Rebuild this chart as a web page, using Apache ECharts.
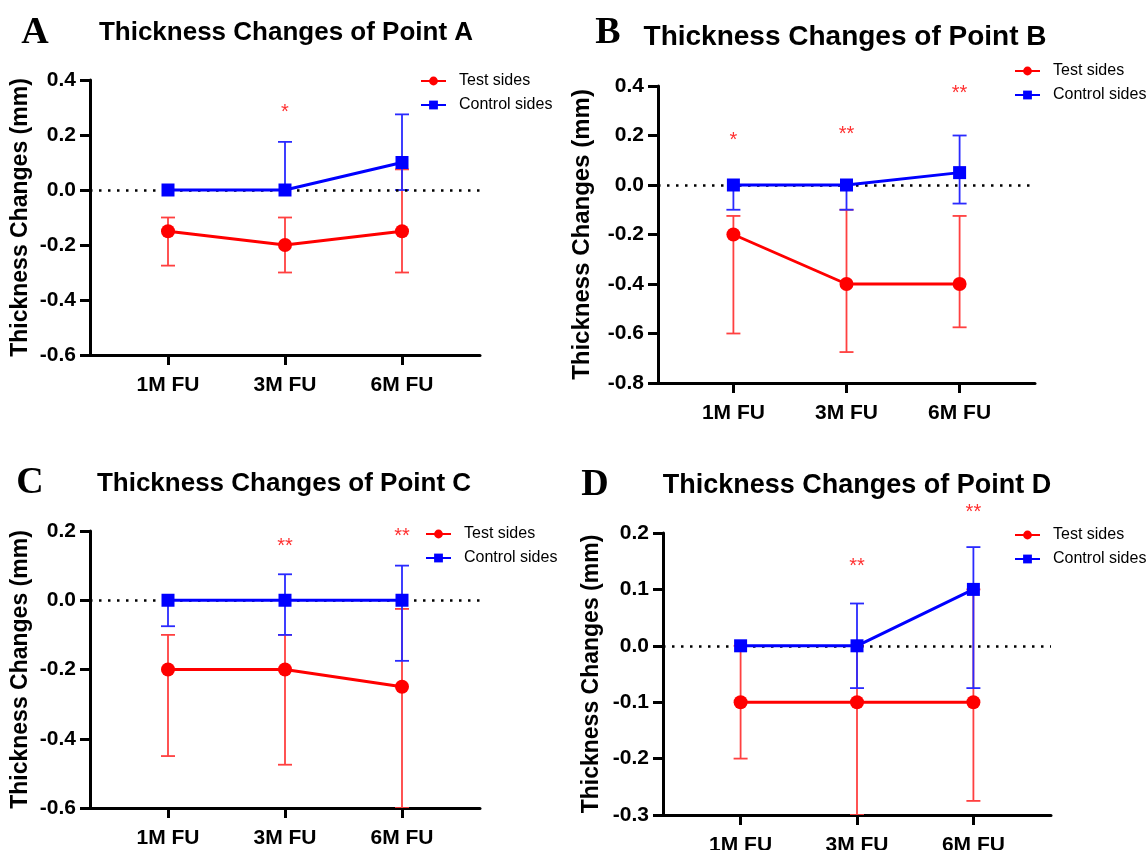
<!DOCTYPE html>
<html>
<head>
<meta charset="utf-8">
<script src="https://cdn.jsdelivr.net/npm/echarts@6/dist/echarts.min.js"></script>
<style>html,body{margin:0;padding:0;background:#fff}#c{width:1147px;height:850px}</style>
</head>
<body>
<div id="c"></div>
<script>
const categories = ['1M FU', '3M FU', '6M FU'];
const seriesNames = ['Test sides', 'Control sides'];
const panelLetters = ['A', 'B', 'C', 'D'];
const panelTitles = ['Thickness Changes of Point A', 'Thickness Changes of Point B', 'Thickness Changes of Point C', 'Thickness Changes of Point D'];
const yName = 'Thickness Changes (mm)';

// Panel A
const testA = [-0.15, -0.2, -0.15];
const testA_hi = [-0.1, -0.1, 0.075];
const testA_lo = [-0.275, -0.3, -0.3];
const ctrlA = [0, 0, 0.1];
const ctrlA_hi = [0, 0.175, 0.275];
const ctrlA_lo = [0, 0, 0];
const starsA = ['', '*', ''];
const starsA_y = [null, 0.3, null];
const yTicksA = { min: -0.6, max: 0.4, interval: 0.2 };

// Panel B
const testB = [-0.2, -0.4, -0.4];
const testB_hi = [-0.125, -0.1, -0.125];
const testB_lo = [-0.6, -0.675, -0.575];
const ctrlB = [0, 0, 0.05];
const ctrlB_hi = [0, 0, 0.2];
const ctrlB_lo = [-0.1, -0.1, -0.075];
const starsB = ['*', '**', '**'];
const starsB_y = [0.2, 0.225, 0.39];
const yTicksB = { min: -0.8, max: 0.4, interval: 0.2 };

// Panel C
const testC = [-0.2, -0.2, -0.25];
const testC_hi = [-0.1, -0.1, -0.025];
const testC_lo = [-0.45, -0.475, -0.6];
const ctrlC = [0, 0, 0];
const ctrlC_hi = [0, 0.075, 0.1];
const ctrlC_lo = [-0.075, -0.1, -0.175];
const starsC = ['', '**', '**'];
const starsC_y = [null, 0.17, 0.2];
const yTicksC = { min: -0.6, max: 0.2, interval: 0.2 };

// Panel D
const testD = [-0.1, -0.1, -0.1];
const testD_hi = [0, 0, 0.1];
const testD_lo = [-0.2, -0.3, -0.275];
const ctrlD = [0, 0, 0.1];
const ctrlD_hi = [0, 0.075, 0.175];
const ctrlD_lo = [0, -0.075, -0.075];
const starsD = ['', '**', '**'];
const starsD_y = [null, 0.15, 0.245];
const yTicksD = { min: -0.3, max: 0.2, interval: 0.1 };

const panels = [
  { test: testA, tHi: testA_hi, tLo: testA_lo, ctrl: ctrlA, cHi: ctrlA_hi, cLo: ctrlA_lo, stars: starsA, starsY: starsA_y, y: yTicksA },
  { test: testB, tHi: testB_hi, tLo: testB_lo, ctrl: ctrlB, cHi: ctrlB_hi, cLo: ctrlB_lo, stars: starsB, starsY: starsB_y, y: yTicksB },
  { test: testC, tHi: testC_hi, tLo: testC_lo, ctrl: ctrlC, cHi: ctrlC_hi, cLo: ctrlC_lo, stars: starsC, starsY: starsC_y, y: yTicksC },
  { test: testD, tHi: testD_hi, tLo: testD_lo, ctrl: ctrlD, cHi: ctrlD_hi, cLo: ctrlD_lo, stars: starsD, starsY: starsD_y, y: yTicksD }
];

// layout (style, not data)
const FONT = '"Liberation Sans", Arial, sans-serif';
const SERIF = '"Liberation Serif", "Times New Roman", serif';
const grids = [
  { left: 90, top: 80, width: 390, height: 275 },
  { left: 658, top: 86, width: 377, height: 297 },
  { left: 90, top: 531, width: 390, height: 277 },
  { left: 663, top: 533, width: 388, height: 282 }
];
const titlePos = [
  { x: 286, y: 33, size: 26 }, { x: 845, y: 37, size: 28 },
  { x: 284, y: 484, size: 26 }, { x: 857, y: 486, size: 27 }
];
const letterPos = [
  { x: 35, y: 33 }, { x: 608, y: 33 }, { x: 30, y: 483 }, { x: 595, y: 485 }
];
const legendPos = [
  { left: 415, top: 68 }, { left: 1009, top: 58 }, { left: 420, top: 521 }, { left: 1009, top: 522 }
];
const yNameGap = [58, 64, 58, 60];
const yNameSize = [23, 24, 23, 23];

const RED = '#ff0000', BLUE = '#0000ff';
const RED_ERR = '#ff4040', BLUE_ERR = '#2a2aff';

// category index -> position on a 0..10 x scale (ticks at 2, 5, 8)
const xPos = categories.map((_, i) => 2 + 3 * i);

function errRender(color) {
  return function (params, api) {
    const x = api.value(0), hi = api.value(1), lo = api.value(2), m = api.value(3);
    const pHi = api.coord([x, hi]), pLo = api.coord([x, lo]);
    const w = 7;
    const st = { stroke: color, lineWidth: 1.8 };
    const ch = [{ type: 'line', shape: { x1: pHi[0], y1: pHi[1], x2: pLo[0], y2: pLo[1] }, style: st }];
    if (hi !== m) ch.push({ type: 'line', shape: { x1: pHi[0] - w, y1: pHi[1], x2: pHi[0] + w, y2: pHi[1] }, style: st });
    if (lo !== m) ch.push({ type: 'line', shape: { x1: pLo[0] - w, y1: pLo[1], x2: pLo[0] + w, y2: pLo[1] }, style: st });
    return { type: 'group', children: ch };
  };
}

const option = {
  animation: false,
  backgroundColor: '#fff',
  grid: grids.map(g => Object.assign({ containLabel: false, outerBoundsMode: 'none' }, g)),
  xAxis: grids.map((g, k) => ({
    gridIndex: k, type: 'value', min: 0, max: 10,
    axisLine: { show: true, onZero: false, lineStyle: { color: '#000', width: 3 } },
    axisTick: { show: true, customValues: xPos, length: 10, lineStyle: { color: '#000', width: 3 } },
    axisLabel: {
      show: true, customValues: xPos, margin: 20,
      formatter: v => categories[xPos.indexOf(v)] || '',
      color: '#000', fontSize: 21, fontWeight: 'bold', fontFamily: FONT
    },
    splitLine: { show: false }
  })),
  yAxis: panels.map((p, k) => ({
    gridIndex: k, type: 'value', min: p.y.min, max: p.y.max, interval: p.y.interval,
    name: yName, nameLocation: 'middle', nameGap: yNameGap[k],
    nameTextStyle: { color: '#000', fontSize: yNameSize[k], fontWeight: 'bold', fontFamily: FONT },
    axisLine: { show: true, onZero: false, lineStyle: { color: '#000', width: 3 } },
    axisTick: { show: true, length: 10, lineStyle: { color: '#000', width: 3 } },
    axisLabel: { margin: 14, color: '#000', fontSize: 21, fontWeight: 'bold', fontFamily: FONT, formatter: v => v.toFixed(1) },
    splitLine: { show: false }
  })),
  legend: legendPos.map(lp => ({
    data: seriesNames, orient: 'vertical', left: lp.left, top: lp.top,
    itemWidth: 25, itemHeight: 11, itemGap: 8, selectedMode: false,
    textStyle: { color: '#000', fontSize: 16, fontFamily: FONT, padding: [0, 0, 0, 8] }
  })),
  graphic: [].concat(
    panelTitles.map((t, k) => ({
      type: 'text', x: titlePos[k].x, y: titlePos[k].y,
      style: { text: t, fill: '#000', font: 'bold ' + titlePos[k].size + 'px ' + FONT, textAlign: 'center', textVerticalAlign: 'middle' }
    })),
    panelLetters.map((t, k) => ({
      type: 'text', x: letterPos[k].x, y: letterPos[k].y,
      style: { text: t, fill: '#000', font: 'bold 38px ' + SERIF, textAlign: 'center', textVerticalAlign: 'middle' }
    }))
  ),
  series: []
};

panels.forEach((p, k) => {
  option.series.push({
    type: 'custom', name: 'errTest' + k, xAxisIndex: k, yAxisIndex: k, clip: true, z: 2,
    renderItem: errRender(RED_ERR),
    data: xPos.map((x, i) => [x, p.tHi[i], p.tLo[i], p.test[i]]),
    markLine: {
      silent: true, symbol: 'none', label: { show: false },
      lineStyle: { color: '#000', type: [2.5, 6.5], width: 2.5 },
      data: [{ yAxis: 0 }]
    }
  });
  option.series.push({
    type: 'custom', name: 'errCtrl' + k, xAxisIndex: k, yAxisIndex: k, clip: true, z: 3,
    renderItem: errRender(BLUE_ERR),
    data: xPos.map((x, i) => [x, p.cHi[i], p.cLo[i], p.ctrl[i]])
  });
  option.series.push({
    type: 'line', name: seriesNames[0], xAxisIndex: k, yAxisIndex: k, z: 4,
    symbol: 'circle', symbolSize: 14, color: RED,
    lineStyle: { color: RED, width: 3 }, itemStyle: { color: RED },
    data: xPos.map((x, i) => [x, p.test[i]])
  });
  option.series.push({
    type: 'line', name: seriesNames[1], xAxisIndex: k, yAxisIndex: k, z: 5,
    symbol: 'rect', symbolSize: 13, color: BLUE,
    lineStyle: { color: BLUE, width: 3 }, itemStyle: { color: BLUE },
    data: xPos.map((x, i) => [x, p.ctrl[i]])
  });
  option.series.push({
    type: 'custom', name: 'stars' + k, xAxisIndex: k, yAxisIndex: k, clip: false, z: 6,
    renderItem: function (params, api) {
      const idx = params.dataIndex;
      const s = p.stars[idx];
      if (!s) return null;
      const pt = api.coord([api.value(0), api.value(1)]);
      return { type: 'text', x: pt[0], y: pt[1] + 5,
        style: { text: s, fill: '#ff3030', font: '20px ' + FONT, textAlign: 'center', textVerticalAlign: 'middle' } };
    },
    data: xPos.map((x, i) => [x, p.starsY[i] === null ? 0 : p.starsY[i]])
  });
});

const chart = echarts.init(document.getElementById('c'), null, { renderer: 'canvas' });
chart.setOption(option);
</script>
</body>
</html>
